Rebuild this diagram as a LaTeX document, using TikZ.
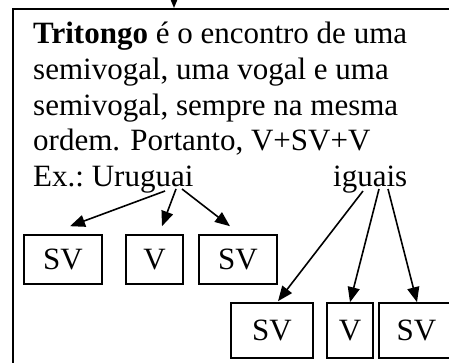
\documentclass[tikz,border=0pt]{standalone}
\usepackage{fontspec}
\setmainfont{Liberation Serif}
\usetikzlibrary{arrows.meta,calc}
\begin{document}
\begin{tikzpicture}[x=1pt,y=-1pt,
  txt/.style={anchor=base west, inner sep=0pt, font=\fontsize{31}{35.6}\selectfont},
  bx/.style={draw, line width=1.6pt, inner sep=0pt, font=\fontsize{31}{35.6}\selectfont},
  arr/.style={line width=1.6pt, -{Triangle[length=15pt,width=12pt]}}]
\useasboundingbox (0,0) rectangle (449,363);
\clip (0,0) rectangle (449,363);
\node[draw, line width=1.6pt, anchor=north west, minimum width=450pt, minimum height=370pt, inner sep=0pt] (main) at (12,8) {};
% top incoming arrow
\coordinate (src) at (174,-20);
\draw[arr] (src) -- (src |- main.north);
% text
\node[txt] (l1) at (33,44) {\textbf{Tritongo} é o encontro de uma};
\node[txt] (l2) at (33,79.6) {semivogal, uma vogal e uma};
\node[txt] (l3) at (33,115.2) {semivogal, sempre na mesma};
\node[txt] (l4) at (33,150.8) {ordem. Portanto, V+SV+V};
\node[txt] (l5) at (33,186.4) {Ex.:};
\node[txt] (uru) at (91.6,186.4) {Uruguai};
\node[txt] (igu) at (333,186.4) {iguais};
% boxes
\node[bx, minimum width=78pt, minimum height=49pt] (u1) at (63,259.5) {SV};
\node[bx, minimum width=57pt, minimum height=49pt] (u2) at (154.5,259.5) {V};
\node[bx, minimum width=78pt, minimum height=49pt] (u3) at (238,259.5) {SV};
\node[bx, minimum width=82pt, minimum height=55pt] (i1) at (272,330.5) {SV};
\node[bx, minimum width=46pt, minimum height=55pt] (i2) at (350,330.5) {V};
\node[bx, minimum width=75pt, minimum height=55pt] (i3) at (416.5,330.5) {SV};
% arrow origins
\coordinate (ua1) at (165,191);
\coordinate (ua2) at (176,189);
\coordinate (ua3) at (182,189);
\coordinate (ig1) at (363,191);
\coordinate (ig2) at (379,189);
\coordinate (ig3) at (388,189);
\draw[arr] (ua1) -- ([shift={(7,-8)}]u1.north);
\draw[arr] (ua2) -- ([shift={(7.5,-8)}]u2.north);
\draw[arr] (ua3) -- ([shift={(-8,-8)}]u3.north);
\draw[arr] (ig1) -- ([shift={(6,-1)}]i1.north);
\draw[arr] (ig2) -- (i2.north);
\draw[arr] (ig3) -- ([shift={(0.5,0)}]i3.north);
\end{tikzpicture}
\end{document}
